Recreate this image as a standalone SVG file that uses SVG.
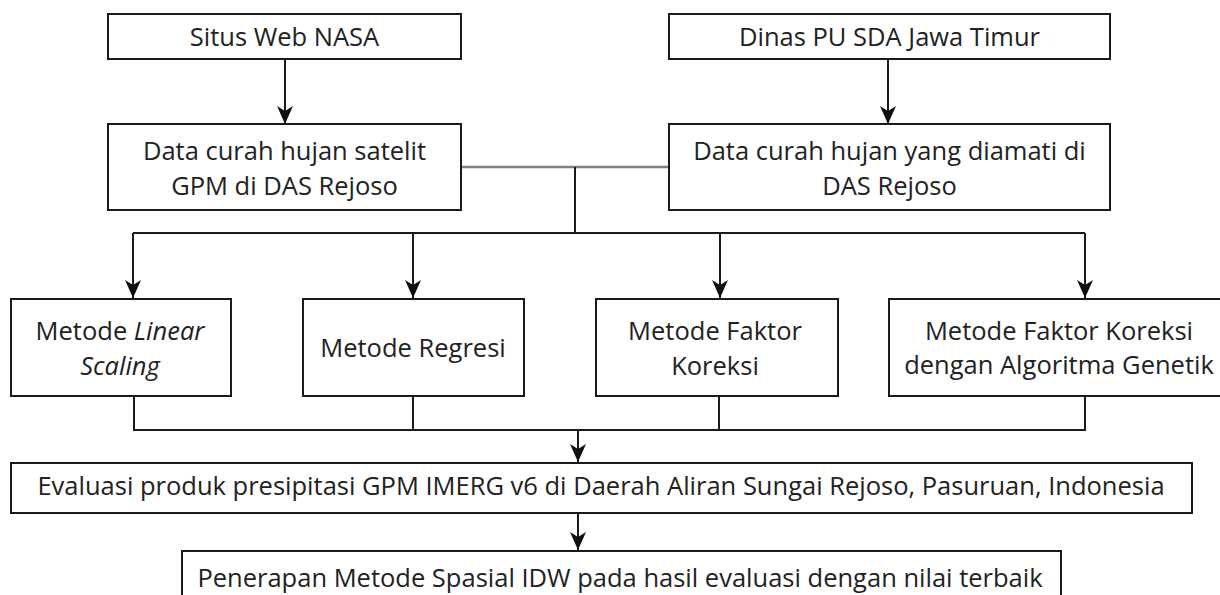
<svg xmlns="http://www.w3.org/2000/svg" width="1220" height="595" viewBox="0 0 1220 595">
<style>
.box{fill:#fff;stroke:#1a1a1a;stroke-width:2}
.t{font-family:"Open Sans","Noto Sans",sans-serif;font-size:25.5px;fill:#222;text-anchor:middle}
.i{font-style:italic}
.c{fill:none;stroke:#1a1a1a;stroke-width:2}
.g{fill:none;stroke:#808080;stroke-width:2.5}
</style>
<defs>
<marker id="ah" viewBox="0 0 18 16" refX="18" refY="8" markerWidth="18" markerHeight="16" markerUnits="userSpaceOnUse" orient="auto">
<path d="M0,0 L18,8 L0,16 L5,8 Z" fill="#111"/>
</marker>
</defs>
<rect width="1220" height="595" fill="#fff"/>
<g id="connectors">
<line class="c" x1="285" y1="59" x2="285" y2="124" marker-end="url(#ah)"/>
<line class="c" x1="888" y1="59" x2="888" y2="124" marker-end="url(#ah)"/>
<line class="g" x1="461" y1="167" x2="669" y2="167"/>
<line class="c" x1="575" y1="167" x2="575" y2="233"/>
<line class="c" x1="133" y1="233" x2="1085" y2="233"/>
<line class="c" x1="133" y1="233" x2="133" y2="298" marker-end="url(#ah)"/>
<line class="c" x1="413" y1="233" x2="413" y2="298" marker-end="url(#ah)"/>
<line class="c" x1="720" y1="233" x2="720" y2="298" marker-end="url(#ah)"/>
<line class="c" x1="1085" y1="233" x2="1085" y2="298" marker-end="url(#ah)"/>
<polyline class="c" points="134,396 134,430 1085,430 1085,396"/>
<line class="c" x1="413" y1="396" x2="413" y2="430"/>
<line class="c" x1="719" y1="396" x2="719" y2="430"/>
<line class="c" x1="578" y1="430" x2="578" y2="462" marker-end="url(#ah)"/>
<line class="c" x1="578" y1="513" x2="578" y2="550" marker-end="url(#ah)"/>
</g>
<g id="n-nasa">
<rect class="box" x="108" y="14" width="353" height="45"/>
<text class="t" x="284.5" y="46">Situs Web NASA</text>
</g>
<g id="n-dinas">
<rect class="box" x="669" y="14" width="441" height="45"/>
<text class="t" x="889.5" y="46">Dinas PU SDA Jawa Timur</text>
</g>
<g id="n-satelit">
<rect class="box" x="108" y="124" width="353" height="86"/>
<text class="t" x="284.5" y="160">Data curah hujan satelit</text>
<text class="t" x="284.5" y="195">GPM di DAS Rejoso</text>
</g>
<g id="n-observed">
<rect class="box" x="669" y="124" width="441" height="86"/>
<text class="t" x="889.5" y="160">Data curah hujan yang diamati di</text>
<text class="t" x="889.5" y="195">DAS Rejoso</text>
</g>
<g id="n-linear">
<rect class="box" x="11" y="299" width="220" height="97"/>
<text class="t" x="120" y="340">Metode <tspan class="i">Linear</tspan></text>
<text class="t i" x="120" y="375">Scaling</text>
</g>
<g id="n-regresi">
<rect class="box" x="303" y="299" width="221" height="97"/>
<text class="t" x="413" y="357">Metode Regresi</text>
</g>
<g id="n-faktor">
<rect class="box" x="596" y="299" width="242" height="97"/>
<text class="t" x="715" y="340">Metode Faktor</text>
<text class="t" x="715" y="375">Koreksi</text>
</g>
<g id="n-genetik">
<rect class="box" x="889" y="299" width="335" height="97"/>
<text class="t" x="1059" y="340">Metode Faktor Koreksi</text>
<text class="t" x="1059" y="374">dengan Algoritma Genetik</text>
</g>
<g id="n-evaluasi">
<rect class="box" x="11" y="463" width="1181" height="50"/>
<text class="t" x="601" y="495">Evaluasi produk presipitasi GPM IMERG v6 di Daerah Aliran Sungai Rejoso, Pasuruan, Indonesia</text>
</g>
<g id="n-idw">
<rect class="box" x="182" y="551" width="879" height="60"/>
<text class="t" x="620" y="587">Penerapan Metode Spasial IDW pada hasil evaluasi dengan nilai terbaik</text>
</g>
</svg>
